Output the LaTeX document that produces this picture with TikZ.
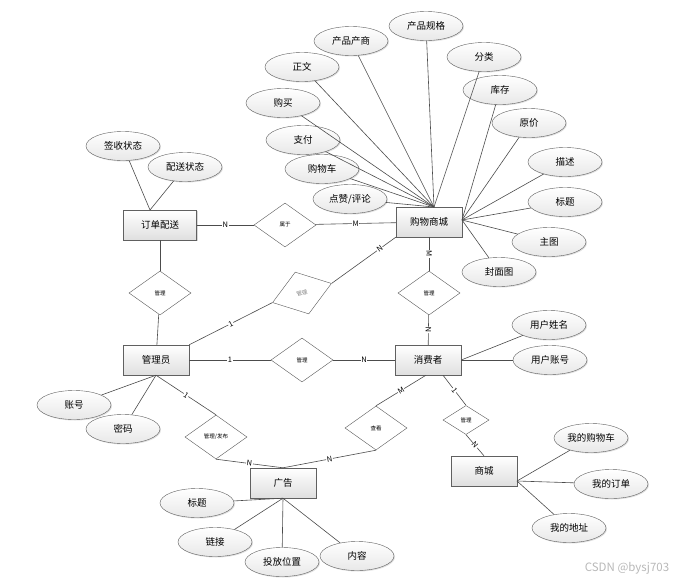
\documentclass[tikz,border=0pt]{standalone}
\usepackage{fontspec}
\setmainfont{Noto Sans CJK SC}
\usetikzlibrary{shapes.geometric,shadows}
\begin{document}
\begin{tikzpicture}[x=1pt, y=-1pt,
  entity/.style={draw=gray!75!black, rectangle, minimum width=66pt, minimum height=30pt, top color=white, bottom color=gray!25, drop shadow={opacity=0.3, shadow xshift=1.2pt, shadow yshift=-1.2pt}, font=\fontsize{9.5}{10}\selectfont},
  attr/.style={draw=gray!75!black, ellipse, minimum width=74pt, minimum height=29pt, inner sep=0pt, top color=white, bottom color=gray!18, drop shadow={opacity=0.25, shadow xshift=1pt, shadow yshift=-1pt}, font=\fontsize{9.5}{10}\selectfont},
  rel/.style={draw=gray!70!black, diamond, fill=white, minimum width=62pt, minimum height=44pt, inner sep=0pt, font=\fontsize{5.5}{6}\selectfont},
  link/.style={draw=gray!60!black, line width=0.6pt},
  card/.style={fill=white, inner sep=0.6pt, font=\fontsize{7.5}{8}\selectfont}]
\useasboundingbox[fill=white] (0,0) rectangle (681,582);
\node[entity, minimum width=73pt] (ddps) at (160,225) {订单配送};
\node[entity] (gwsc) at (429,222) {购物商城};
\node[entity] (gly) at (156,360) {管理员};
\node[entity] (xfz) at (428,360) {消费者};
\node[entity] (gg) at (283,483) {广告};
\node[entity] (sc) at (484,471) {商城};
\node[rel] (sy) at (285,225) {属于};
\node[rel] (glL) at (160,293) {管理};
\node[rel, rotate=18, text=gray] (glG) at (302,293) {管理};
\node[rel] (glT) at (429,293) {管理};
\node[rel] (glM) at (302,360) {管理};
\node[rel] (glfb) at (216,437) {管理/发布};
\node[rel] (ck) at (376,428) {查看};
\node[rel, minimum width=46pt, minimum height=29pt] (glS) at (466,420) {管理};
\node[attr] (cpgg) at (426,26) {产品规格};
\node[attr] (cpcs) at (351,41) {产品产商};
\node[attr] (zw) at (302,67) {正文};
\node[attr] (fl) at (484,57) {分类};
\node[attr] (gm) at (283,103) {购买};
\node[attr] (zf) at (303,140) {支付};
\node[attr] (gwc) at (322,169) {购物车};
\node[attr] (dzpl) at (350,199) {点赞/评论};
\node[attr] (kc) at (500,90) {库存};
\node[attr] (yj) at (529,123) {原价};
\node[attr] (ms) at (565,162) {描述};
\node[attr] (bt) at (565,202) {标题};
\node[attr] (zt) at (549,242) {主图};
\node[attr] (fmt) at (499,272) {封面图};
\node[attr] (qszt) at (123,146) {签收状态};
\node[attr] (pszt) at (185,167) {配送状态};
\node[attr] (zh) at (74,405) {账号};
\node[attr] (mm) at (123,429) {密码};
\node[attr] (ggbt) at (197,503) {标题};
\node[attr] (lj) at (215,542) {链接};
\node[attr] (tfwz) at (282,562) {投放位置};
\node[attr] (nr) at (357,556) {内容};
\node[attr] (yhxm) at (549,325) {用户姓名};
\node[attr] (yhzh) at (550,360) {用户账号};
\node[attr] (wdgwc) at (591,438) {我的购物车};
\node[attr] (wddd) at (611,484) {我的订单};
\node[attr] (wddz) at (569,528) {我的地址};
\coordinate (gwtop) at (434,207);
\coordinate (gwright) at (462,220);
\coordinate (ddtop) at (150,210);
\coordinate (scright) at (517,481);
\foreach \a in {cpgg,cpcs,zw,fl,gm,zf,gwc,dzpl} \draw[link] (\a) -- (gwtop);
\foreach \a in {kc,yj,ms,bt,zt,fmt} \draw[link] (\a) -- (gwright);
\foreach \a in {qszt,pszt} \draw[link] (\a) -- (ddtop);
\foreach \a in {zh,mm} \draw[link] (\a) -- (gly.south);
\foreach \a in {ggbt,lj,tfwz,nr} \draw[link] (\a) -- (gg.south);
\foreach \a in {yhxm,yhzh} \draw[link] (\a) -- (xfz.east);
\foreach \a in {wdgwc,wddd,wddz} \draw[link] (\a) -- (scright);
\draw[link] (ddps) -- node[card] {N} (sy);
\draw[link] (sy) -- node[card] {M} (gwsc);
\draw[link] (ddps) -- (glL);
\draw[link] (glL) -- (gly);
\draw[link] (gly.north east) -- node[card, sloped] {1} (glG.west);
\draw[link] (glG.east) -- node[card, sloped, pos=0.75] {N} (gwsc.south west);
\draw[link] (gwsc) -- node[card, sloped] {M} (glT);
\draw[link] (glT) -- node[card, sloped] {N} (xfz);
\draw[link] (gly) -- node[card] {1} (glM);
\draw[link] (glM) -- node[card] {N} (xfz);
\draw[link] (gly.south) -- node[card, sloped] {1} (glfb.north);
\draw[link] (glfb.south) -- node[card, sloped] {N} (gg.north);
\draw[link] ([xshift=-2pt]xfz.south) -- node[card, sloped] {M} (ck.north);
\draw[link] (ck.south) -- node[card, sloped] {N} (gg.north);
\draw[link] ([xshift=15pt]xfz.south) -- node[card, sloped] {1} (glS.north);
\draw[link] (glS.south) -- node[card, sloped] {N} (sc.north);
\node[text=gray!55, font=\fontsize{11.5}{12}\selectfont] (wm) at (627,568) {CSDN @bysj703};
\end{tikzpicture}
\end{document}
